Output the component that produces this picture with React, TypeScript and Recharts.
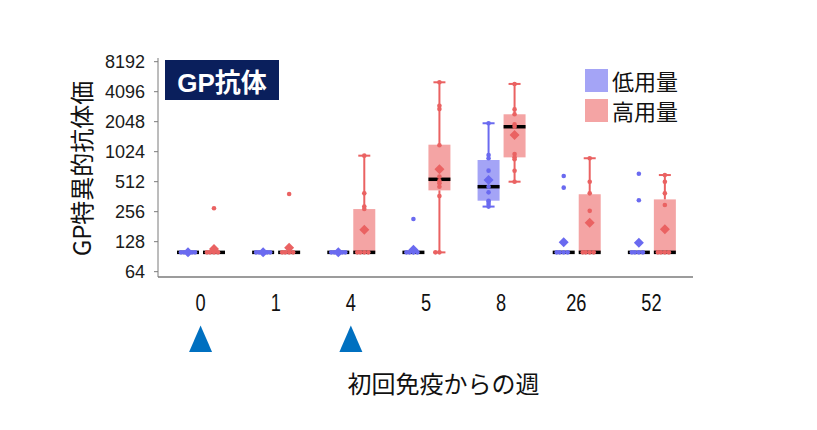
import { ComposedChart, Bar, XAxis, YAxis } from "recharts";

// weeks after the first immunisation
const WEEKS = ["0", "1", "4", "5", "8", "26", "52"];
// weeks where a dose was given (blue triangles)
const DOSE_WEEKS = ["0", "4"];
const Y_TICKS = [64, 128, 256, 512, 1024, 2048, 4096, 8192];

// low dose group
const LOW_MIN = [100, 100, 100, 100, 288, 100, 100];
const LOW_Q1 = [100, 100, 100, 100, 330, 100, 100];
const LOW_MEDIAN = [100, 100, 100, 100, 456, 100, 100];
const LOW_Q3 = [100, 100, 100, 100, 845, 100, 100];
const LOW_MAX = [100, 100, 100, 100, 1975, 100, 100];
const LOW_MEAN = [100, 100, 100, 106, 533, 126, 125];
const LOW_POINTS = [
  [100, 100, 100, 100, 100],
  [100, 100, 100, 100, 100],
  [100, 100, 100, 100, 100],
  [216, 100, 100, 100, 100],
  [1975, 950, 880, 661, 456, 400, 330, 322, 306, 288],
  [584, 446, 100, 100, 100, 100],
  [616, 333, 100, 100, 100, 100],
];

// high dose group
const HIGH_MIN = [100, 100, 100, 100, 512, 100, 100];
const HIGH_Q1 = [100, 100, 100, 419, 898, 100, 100];
const HIGH_MEDIAN = [100, 100, 100, 541, 1823, 100, 100];
const HIGH_Q3 = [100, 100, 272, 1204, 2430, 383, 340];
const HIGH_MAX = [100, 100, 934, 5090, 4900, 880, 597];
const HIGH_MEAN = [108, 111, 169, 682, 1508, 198, 171];
const HIGH_POINTS = [
  [277, 100, 100, 100, 100],
  [385, 100, 100, 100, 100],
  [934, 391, 288, 272, 100, 100, 100, 100],
  [5090, 2960, 2740, 1190, 575, 520, 494, 456, 367, 100, 100],
  [4900, 2720, 2430, 1925, 1823, 968, 898, 860, 660, 512],
  [880, 512, 391, 261, 100, 100, 100, 100],
  [597, 512, 391, 299, 100, 100, 100, 100],
];

const SERIES = [
  { key: "low", name: "低用量", fill: "#a4a4f6", stroke: "#6a6af0" },
  { key: "high", name: "高用量", fill: "#f4a4a4", stroke: "#ea6262" },
];

const JP_FONT = "'Noto Sans CJK JP', 'Noto Sans', sans-serif";
const NUM_FONT = "'Liberation Sans', Arial, sans-serif";

function stats(i: number, min: number[], q1: number[], med: number[], q3: number[], max: number[], mean: number[], pts: number[][]) {
  return { min: min[i], q1: q1[i], median: med[i], q3: q3[i], max: max[i], mean: mean[i], points: pts[i] };
}

function span(s: any) {
  const all = [s.min, s.max, s.mean, ...s.points];
  return [Math.min(...all), Math.max(...all)];
}

const data = WEEKS.map((week, i) => {
  const low = stats(i, LOW_MIN, LOW_Q1, LOW_MEDIAN, LOW_Q3, LOW_MAX, LOW_MEAN, LOW_POINTS);
  const high = stats(i, HIGH_MIN, HIGH_Q1, HIGH_MEDIAN, HIGH_Q3, HIGH_MAX, HIGH_MEAN, HIGH_POINTS);
  return { week, low, high, lowRange: span(low), highRange: span(high) };
});

const JITTER = [0, -4, 4, -7, 7, -2, 2];

function BoxShape(props: any) {
  const { x, y, width, height, payload, series } = props;
  const s = payload[series.key];
  const [lo, hi] = payload[series.key + "Range"];
  // bar spans [lo, hi] on the log axis, so interpolate in log space
  const toY = (v: number) =>
    hi === lo ? y : y + (height * (Math.log(hi) - Math.log(v))) / (Math.log(hi) - Math.log(lo));
  const cx = x + width / 2;
  const seen: Record<number, number> = {};
  const yq1 = toY(s.q1);
  const yq3 = toY(s.q3);
  const ym = toY(s.mean);

  return (
    <g>
      {yq1 - yq3 > 0.5 && <rect x={x} y={yq3} width={width} height={yq1 - yq3} fill={series.fill} />}
      {s.max > s.q3 && (
        <g stroke={series.stroke} strokeWidth={2}>
          <line x1={cx} x2={cx} y1={yq3} y2={toY(s.max)} />
          <line x1={cx - 6} x2={cx + 6} y1={toY(s.max)} y2={toY(s.max)} />
        </g>
      )}
      {s.min < s.q1 && (
        <g stroke={series.stroke} strokeWidth={2}>
          <line x1={cx} x2={cx} y1={yq1} y2={toY(s.min)} />
          <line x1={cx - 6} x2={cx + 6} y1={toY(s.min)} y2={toY(s.min)} />
        </g>
      )}
      <line x1={x} x2={x + width} y1={toY(s.median)} y2={toY(s.median)} stroke="#000" strokeWidth={3.5} />
      {s.points.map((v: number, k: number) => {
        const n = seen[v] || 0;
        seen[v] = n + 1;
        return <circle key={k} cx={cx + JITTER[n % JITTER.length]} cy={toY(v)} r={2.3} fill={series.stroke} />;
      })}
      <polygon
        points={`${cx},${ym - 5} ${cx + 5},${ym} ${cx},${ym + 5} ${cx - 5},${ym}`}
        fill={series.stroke}
      />
    </g>
  );
}

function WeekTick(props: any) {
  const { x, y, payload } = props;
  const dosed = DOSE_WEEKS.includes(payload.value);
  return (
    <g transform={`translate(${x},${y})`}>
      <text
        x={0}
        y={34.5}
        textAnchor="middle"
        fontSize={24}
        fontFamily={NUM_FONT}
        fill="#111"
        transform="scale(0.76,1)"
      >
        {payload.value}
      </text>
      {dosed && <polygon points="-11.5,75 11.5,75 0,48.5" fill="#0070c0" />}
    </g>
  );
}

export default function App() {
  return (
    <div style={{ position: "relative", width: 809, height: 422 }}>
      <ComposedChart
        width={809}
        height={422}
        data={data}
        margin={{ top: 50, right: 124, bottom: 123, left: 90 }}
        barSize={22}
        barGap={4}
      >
        <XAxis
          dataKey="week"
          height={30}
          padding={{ left: 5, right: 4 }}
          axisLine={{ stroke: "#9c9c9c", strokeWidth: 2 }}
          tickLine={false}
          tickSize={0}
          tickMargin={0}
          interval={0}
          tick={<WeekTick />}
          label={{
            content: (p: any) => (
              <text
                x={p.viewBox.x + p.viewBox.width / 2 + 18}
                y={p.viewBox.y + 116}
                textAnchor="middle"
                fontSize={24}
                fontFamily={JP_FONT}
                fill="#111"
              >
                初回免疫からの週
              </text>
            ),
          }}
        />
        <YAxis
          type="number"
          scale="log"
          domain={[56.6, 8921]}
          allowDataOverflow
          ticks={Y_TICKS}
          interval={0}
          width={60}
          axisLine={{ stroke: "#7a7a7a" }}
          tickLine={{ stroke: "#7a7a7a" }}
          tickSize={4}
          tickMargin={9}
          tick={{ fontSize: 18, fontFamily: NUM_FONT, fill: "#1a1a1a" }}
          label={{
            content: (p: any) => {
              const cx = p.viewBox.x - 18;
              const cy = p.viewBox.y + p.viewBox.height / 2 + 1;
              return (
                <text
                  x={cx}
                  y={cy}
                  transform={`rotate(-90 ${cx} ${cy})`}
                  textAnchor="middle"
                  dominantBaseline="central"
                  fontSize={24}
                  fontFamily={JP_FONT}
                  fill="#111"
                >
                  GP特異的抗体価
                </text>
              );
            },
          }}
        />
        {SERIES.map((s) => (
          <Bar
            key={s.key}
            dataKey={s.key + "Range"}
            name={s.name}
            fill={s.fill}
            isAnimationActive={false}
            shape={(p: any) => <BoxShape {...p} series={s} />}
          />
        ))}
      </ComposedChart>

      <div
        style={{
          position: "absolute",
          left: 157,
          top: 52,
          width: 114,
          height: 40,
          background: "#0a1f5c",
          color: "#fff",
          fontFamily: `'Liberation Sans', ${JP_FONT}`,
          fontWeight: "bold",
          fontSize: 26,
          display: "flex",
          alignItems: "center",
          justifyContent: "center",
        }}
      >
        GP抗体
      </div>

      <div style={{ position: "absolute", left: 577, top: 57 }}>
        {SERIES.map((s) => (
          <div key={s.key} style={{ display: "flex", alignItems: "center", height: 30 }}>
            <div style={{ width: 23, height: 23, background: s.fill, marginRight: 4, flexShrink: 0 }} />
            <span
              style={{
                fontFamily: JP_FONT,
                fontSize: 22,
                color: "#111",
                lineHeight: "24px",
                height: 24,
                display: "block",
                overflow: "visible",
              }}
            >
              {s.name}
            </span>
          </div>
        ))}
      </div>
    </div>
  );
}
